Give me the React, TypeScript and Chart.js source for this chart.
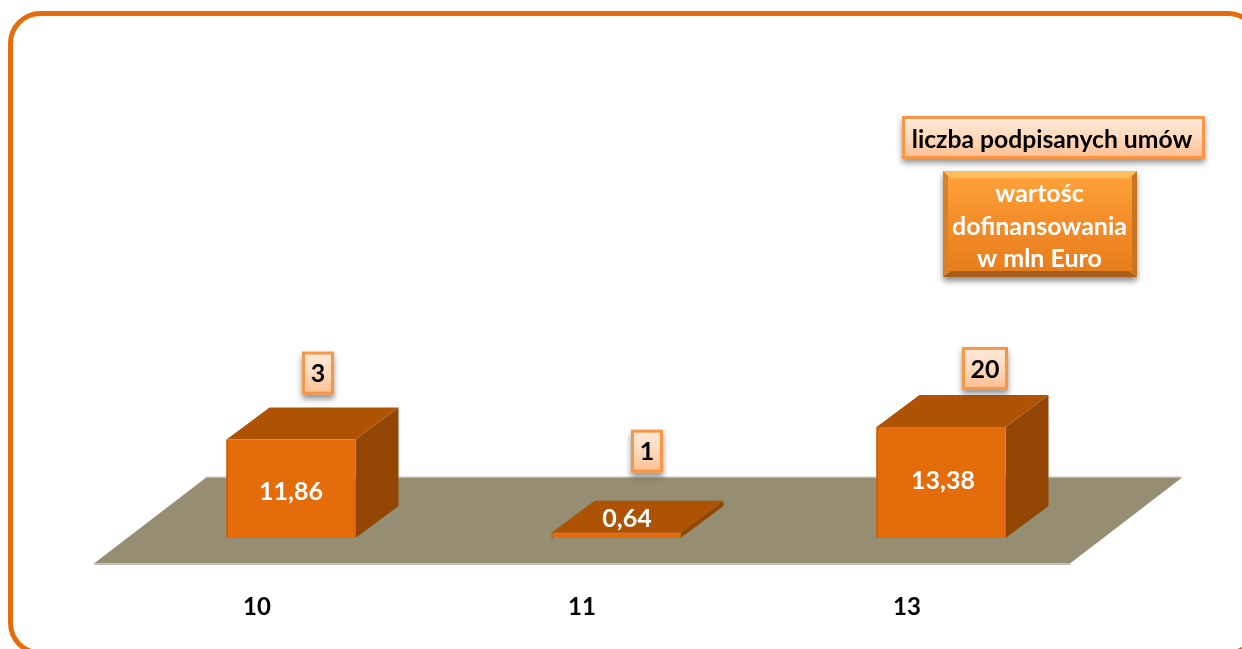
import React, { useEffect, useRef } from "react";
import { Chart, registerables } from "chart.js";

Chart.register(...registerables);

const categories = ["10", "11", "13"];
const fundingValues = [11.86, 0.64, 13.38];
const contractCounts = [3, 1, 20];
const legendCountLabel = "liczba podpisanych umów";
const legendValueLines = ["wartośc", "dofinansowania", "w mln Euro"];

const valueLabelOffsetX = [0, 11, 2];
const valueLabelOffsetY = [3, 0, -2];
const countBoxOffsetX = [27, 31, 44];
const countBoxGap = [45, 60, 37];
const countBoxWidth = [32, 32, 46];

const FONT = "Lato, Carlito, sans-serif";
const FRONT = "#E56C0A";
const TOP = "#AE5204";
const SIDE = "#934503";
const FLOOR = "#968E72";
const DEPTH_X = 43;
const DEPTH_Y = 32;

function roundedPath(ctx: CanvasRenderingContext2D, x: number, y: number, w: number, h: number, r: number) {
  ctx.beginPath();
  ctx.moveTo(x + r, y);
  ctx.arcTo(x + w, y, x + w, y + h, r);
  ctx.arcTo(x + w, y + h, x, y + h, r);
  ctx.arcTo(x, y + h, x, y, r);
  ctx.arcTo(x, y, x + w, y, r);
  ctx.closePath();
}

function poly(ctx: CanvasRenderingContext2D, pts: number[][], fill: string) {
  ctx.beginPath();
  pts.forEach(([x, y], i) => (i ? ctx.lineTo(x, y) : ctx.moveTo(x, y)));
  ctx.closePath();
  ctx.fillStyle = fill;
  ctx.fill();
}

function lightBox(ctx: CanvasRenderingContext2D, x: number, y: number, w: number, h: number) {
  ctx.save();
  ctx.shadowColor = "rgba(60,60,60,0.55)";
  ctx.shadowBlur = 6;
  ctx.shadowOffsetY = 4;
  const g = ctx.createLinearGradient(0, y, 0, y + h);
  g.addColorStop(0, "#FFEBDD");
  g.addColorStop(0.5, "#FFD9BC");
  g.addColorStop(1, "#FFBE8E");
  ctx.fillStyle = g;
  ctx.fillRect(x, y, w, h);
  ctx.restore();
  ctx.strokeStyle = "#F79646";
  ctx.lineWidth = 3;
  ctx.strokeRect(x + 1.5, y + 1.5, w - 3, h - 3);
}

const scenePlugin = {
  id: "scene",
  beforeDatasetsDraw(chart: any) {
    const { ctx, chartArea } = chart;
    const base = chart.scales.y.getPixelForValue(0);
    const meta = chart.getDatasetMeta(0);

    // outer rounded frame, running past the right and bottom edges of the page
    ctx.save();
    ctx.strokeStyle = "#E56C0A";
    ctx.lineWidth = 5;
    roundedPath(ctx, 10.5, 13.5, 1247.5, 639.5, 30);
    ctx.stroke();

    // floor plane
    const fl = chartArea.left - 34.5;
    const fr = chartArea.right - 33.5;
    const fy = base + 25.5;
    const bdx = 111.5;
    const bdy = 85.5;
    poly(ctx, [[fl, fy], [fr, fy], [fr + bdx, fy - bdy], [fl + bdx, fy - bdy]], FLOOR);
    ctx.fillStyle = "#BDBDBD";
    ctx.fillRect(fl, fy, fr - fl, 1.5);
    ctx.fillRect(fl + bdx, fy - bdy - 1.5, fr - fl, 1.5);

    // top and side faces of each bar
    meta.data.forEach((bar: any) => {
      const l = bar.x - bar.width / 2;
      const r = bar.x + bar.width / 2;
      poly(ctx, [[r, bar.y], [r + DEPTH_X, bar.y - DEPTH_Y], [r + DEPTH_X, base - DEPTH_Y], [r, base]], SIDE);
      poly(ctx, [[l, bar.y], [r, bar.y], [r + DEPTH_X, bar.y - DEPTH_Y], [l + DEPTH_X, bar.y - DEPTH_Y]], TOP);
    });
    ctx.restore();
  },
  afterDatasetsDraw(chart: any) {
    const { ctx } = chart;
    const base = chart.scales.y.getPixelForValue(0);
    const meta = chart.getDatasetMeta(0);
    ctx.save();
    ctx.textAlign = "center";
    ctx.textBaseline = "middle";

    meta.data.forEach((bar: any, i: number) => {
      // darker left edge of the front face
      ctx.fillStyle = "#C05C08";
      ctx.fillRect(bar.x - bar.width / 2, bar.y, 1.5, base - bar.y);

      // value on the bar
      const cy = Math.min((bar.y + base) / 2, base - 19) + valueLabelOffsetY[i];
      ctx.font = `700 25px ${FONT}`;
      ctx.fillStyle = "#FFFFFF";
      ctx.fillText(String(fundingValues[i]).replace(".", ","), bar.x + valueLabelOffsetX[i], cy);

      // contract count box above the bar
      const w = countBoxWidth[i];
      const h = 43;
      const cx = bar.x + countBoxOffsetX[i];
      const yBottom = bar.y - countBoxGap[i];
      lightBox(ctx, cx - w / 2, yBottom - h, w, h);
      ctx.fillStyle = "#000000";
      ctx.font = `700 25px ${FONT}`;
      ctx.fillText(String(contractCounts[i]), cx, yBottom - h / 2 + 1);
    });

    // legend: number of contracts
    lightBox(ctx, 902, 116, 303, 43);
    ctx.fillStyle = "#000000";
    ctx.font = `700 24.7px ${FONT}`;
    ctx.fillText(legendCountLabel, 1052, 140);

    // legend: funding value
    const x = 943, y = 171, w = 194, h = 106;
    ctx.save();
    ctx.shadowColor = "rgba(60,60,60,0.6)";
    ctx.shadowBlur = 6;
    ctx.shadowOffsetY = 4;
    const g = ctx.createLinearGradient(0, y, 0, y + h);
    g.addColorStop(0, "#FFA43C");
    g.addColorStop(0.5, "#F28C28");
    g.addColorStop(1, "#E67D1C");
    ctx.fillStyle = g;
    ctx.fillRect(x, y, w, h);
    ctx.restore();
    poly(ctx, [[x, y], [x + w, y], [x + w - 8, y + 7], [x + 8, y + 7]], "#FFBE5C");
    poly(ctx, [[x, y + h], [x + w, y + h], [x + w - 8, y + h - 6], [x + 8, y + h - 6]], "#A85F1E");
    poly(ctx, [[x, y], [x + 5, y + 5], [x + 5, y + h - 5], [x, y + h]], "#D9802A");
    poly(ctx, [[x + w, y], [x + w - 5, y + 5], [x + w - 5, y + h - 5], [x + w, y + h]], "#C9741F");
    ctx.fillStyle = "#FFFFFF";
    ctx.font = `700 25px ${FONT}`;
    legendValueLines.forEach((line, i) => {
      ctx.fillText(line, 1039.5, 194 + i * 32.5);
    });
    ctx.restore();
  },
};

export default function App() {
  const ref = useRef<HTMLCanvasElement>(null);
  useEffect(() => {
    document.body.style.margin = "0";
    const chart = new Chart(ref.current as HTMLCanvasElement, {
      type: "bar",
      data: {
        labels: categories,
        datasets: [
          {
            data: fundingValues,
            backgroundColor: FRONT,
            borderWidth: 0,
            barPercentage: 0.397,
            categoryPercentage: 1,
          },
        ],
      },
      options: {
        responsive: false,
        animation: false,
        devicePixelRatio: 1,
        layout: { padding: { left: 128.5, right: 138.5, top: 40, bottom: 0 } },
        plugins: { legend: { display: false }, tooltip: { enabled: false } },
        scales: {
          x: {
            afterFit(scale: any) {
              scale.height = 111;
            },
            grid: { display: false, drawTicks: false },
            border: { display: false },
            ticks: {
              padding: 55,
              labelOffset: -34,
              color: "#000000",
              font: { family: FONT, size: 24, weight: "bold" },
              maxRotation: 0,
            },
          },
          y: { display: false, min: 0, max: 60 },
        },
      },
      plugins: [scenePlugin],
    } as any);
    return () => chart.destroy();
  }, []);
  return <canvas ref={ref} width={1242} height={649} style={{ display: "block" }} />;
}
